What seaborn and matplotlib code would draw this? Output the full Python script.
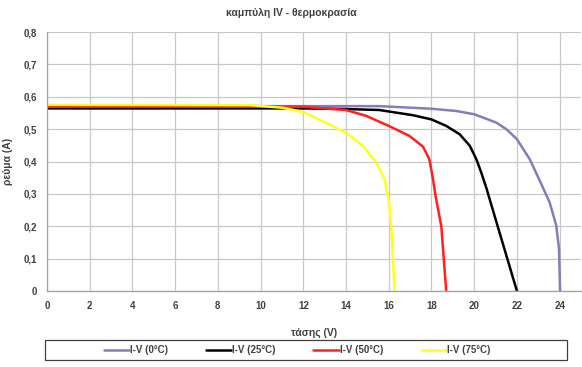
import numpy as np
import pandas as pd
import seaborn as sns
import matplotlib
matplotlib.use("Agg")
import matplotlib.pyplot as plt
from matplotlib.patches import Rectangle

# values
labels = ["I-V (0°C)", "I-V (25°C)", "I-V (50°C)", "I-V (75°C)"]
colors = ["#8c7ab8", "#000000", "#ff2020", "#ffff20"]

v_0 = [0, 14, 15.56, 18, 19.16, 20, 21.04, 21.5, 22, 22.6, 23.06, 23.53, 23.84, 23.97, 24.02]
i_0 = [0.571, 0.571, 0.571, 0.563, 0.556, 0.546, 0.52, 0.5, 0.469, 0.407, 0.342, 0.274, 0.203, 0.131, 0]

v_25 = [0, 12, 14, 15.56, 17.13, 18, 18.69, 19.32, 19.79, 20.1, 20.33, 20.57, 21.0, 21.5, 22.0]
i_25 = [0.564, 0.564, 0.562, 0.559, 0.543, 0.53, 0.51, 0.484, 0.449, 0.407, 0.366, 0.318, 0.222, 0.111, 0]

v_50 = [0, 12, 14, 14.94, 16, 16.97, 17.6, 17.9, 18.06, 18.2, 18.46, 18.69]
i_50 = [0.569, 0.569, 0.559, 0.541, 0.51, 0.479, 0.446, 0.407, 0.35, 0.29, 0.2, 0]

v_75 = [0, 9.5, 11.03, 12, 13.05, 14, 14.78, 15.41, 15.8, 16, 16.11, 16.19, 16.27]
i_75 = [0.575, 0.574, 0.566, 0.553, 0.52, 0.489, 0.449, 0.397, 0.346, 0.28, 0.2, 0.1, 0]

frames = []
for lab, v, i in zip(labels, [v_0, v_25, v_50, v_75], [i_0, i_25, i_50, i_75]):
    frames.append(pd.DataFrame({"V": v, "I": i, "series": lab}))
df = pd.concat(frames, ignore_index=True)

sns.set_style("white")
plt.rcParams["font.family"] = ["Liberation Sans", "DejaVu Sans"]
txt = "#404040"

fig = plt.figure(figsize=(5.82, 3.67), dpi=100)
ax = fig.add_axes([47 / 582, 76 / 367, 534 / 582, 259 / 367])

sns.lineplot(data=df, x="V", y="I", hue="series", palette=colors,
             sort=False, estimator=None, linewidth=1.8, ax=ax, legend=False)

ax.set_xlim(0, 25)
ax.set_ylim(0, 0.8)
ax.set_xticks(np.arange(0, 25, 2))
ax.set_yticks(np.arange(0, 0.81, 0.1))
ax.set_xticklabels([str(t) for t in range(0, 25, 2)])
ax.set_yticklabels(["0"] + [f"{t:.1f}".replace(".", ",") for t in np.arange(0.1, 0.81, 0.1)])
ax.grid(True, color="#c8c8c8", linewidth=0.9)
for s in ["top", "right"]:
    ax.spines[s].set_visible(False)
for s in ["left", "bottom"]:
    ax.spines[s].set_color("#a0a0a0")
    ax.spines[s].set_linewidth(0.9)
ax.tick_params(axis="both", length=3, color="#a0a0a0", labelsize=7, labelcolor=txt, pad=4)
for t in ax.get_xticklabels() + ax.get_yticklabels():
    t.set_fontweight("bold")

ax.set_xlabel("τάσης (V)", fontsize=7.5, fontweight="bold", color=txt, labelpad=12)
ax.set_ylabel("ρεύμα (A)", fontsize=7.5, fontweight="bold", color=txt, labelpad=8)
fig.text(0.5, 0.965, "καμπύλη IV - θερμοκρασία", ha="center", va="center",
         fontsize=7.5, fontweight="bold", color=txt)

# legend box at the bottom
fig.patches.append(Rectangle((45 / 582, 7 / 367), 522 / 582, 20 / 367,
                             transform=fig.transFigure, fill=False,
                             edgecolor="#404040", linewidth=0.9))
handles = [plt.Line2D([], [], color=c, linewidth=1.8) for c in colors]
leg = fig.legend(handles, labels, ncol=4, loc="center",
                 bbox_to_anchor=(297 / 582, 17 / 367), frameon=False,
                 fontsize=7, handlelength=2.6, handletextpad=0.1,
                 columnspacing=3.9, borderaxespad=0)
for t in leg.get_texts():
    t.set_fontweight("bold")
    t.set_color(txt)

fig.savefig("out.png", dpi=100)
